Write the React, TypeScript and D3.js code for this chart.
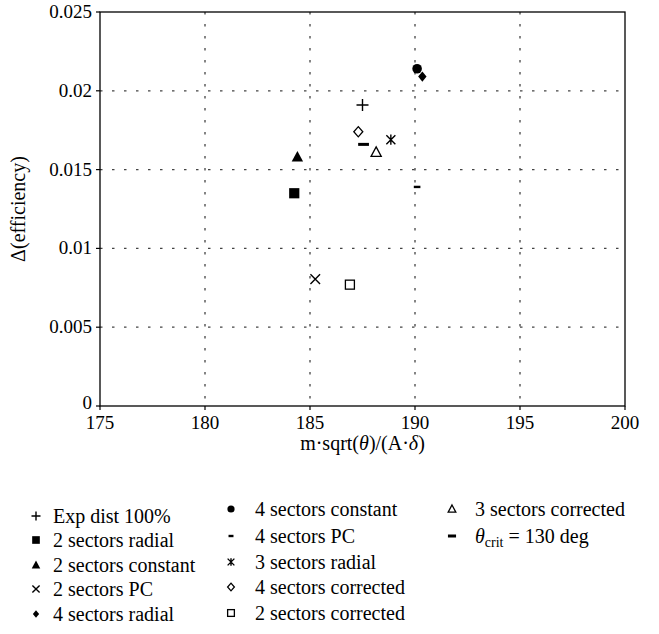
import React from "react";
import * as d3 from "d3";

const seriesNames = [
  "Exp dist 100%",
  "2 sectors radial",
  "2 sectors constant",
  "2 sectors PC",
  "4 sectors radial",
  "4 sectors constant",
  "4 sectors PC",
  "3 sectors radial",
  "4 sectors corrected",
  "2 sectors corrected",
  "3 sectors corrected",
  "theta_crit",
];
const seriesMarkers = [
  "plus", "square", "triangle", "cross", "diamond",
  "circle", "dash", "star", "diamondOpen", "squareOpen",
  "triangleOpen", "dashBold",
];
const xValues = [187.5, 184.25, 184.4, 185.25, 190.35, 190.1, 190.1, 188.85, 187.3, 186.9, 188.15, 187.55];
const yValues = [0.0191, 0.0135, 0.0158, 0.00805, 0.0209, 0.0214, 0.0139, 0.0169, 0.0174, 0.0077, 0.0161, 0.0166];

const xTicks = [175, 180, 185, 190, 195, 200];
const yTicks = [0, 0.005, 0.01, 0.015, 0.02, 0.025];
const yTickLabels = ["0", "0.005", "0.01", "0.015", "0.02", "0.025"];

const W = 659, H = 634;
const left = 100, right = 625, top = 12, bottom = 406;
const FONT = "'Times New Roman', 'Liberation Serif', Tinos, 'DejaVu Serif', 'Noto Serif', serif";

function Marker({ type, x, y, s }: { type: string; x: number; y: number; s: number }) {
  const h = s / 2;
  switch (type) {
    case "plus":
      return <path d={`M${x - h},${y}H${x + h}M${x},${y - h}V${y + h}`} stroke="#000" strokeWidth={1.4} fill="none" />;
    case "cross":
      return <path d={`M${x - h * 0.8},${y - h * 0.8}L${x + h * 0.8},${y + h * 0.8}M${x - h * 0.8},${y + h * 0.8}L${x + h * 0.8},${y - h * 0.8}`} stroke="#000" strokeWidth={1.4} fill="none" />;
    case "star":
      return <path d={`M${x - h * 0.75},${y - h * 0.75}L${x + h * 0.75},${y + h * 0.75}M${x - h * 0.75},${y + h * 0.75}L${x + h * 0.75},${y - h * 0.75}M${x},${y - h * 0.85}V${y + h * 0.85}`} stroke="#000" strokeWidth={1.4} fill="none" />;
    case "square":
      return <rect x={x - h * 0.85} y={y - h * 0.85} width={h * 1.7} height={h * 1.7} fill="#000" />;
    case "squareOpen":
      return <rect x={x - h * 0.75} y={y - h * 0.75} width={h * 1.5} height={h * 1.5} fill="#fff" stroke="#000" strokeWidth={1.3} />;
    case "triangle":
      return <path d={`M${x},${y - h}L${x + h * 0.95},${y + h * 0.75}L${x - h * 0.95},${y + h * 0.75}Z`} fill="#000" />;
    case "triangleOpen":
      return <path d={`M${x},${y - h * 0.9}L${x + h * 0.85},${y + h * 0.7}L${x - h * 0.85},${y + h * 0.7}Z`} fill="#fff" stroke="#000" strokeWidth={1.3} />;
    case "diamond":
      return <path d={`M${x},${y - h * 0.85}L${x + h * 0.7},${y}L${x},${y + h * 0.85}L${x - h * 0.7},${y}Z`} fill="#000" />;
    case "diamondOpen":
      return <path d={`M${x},${y - h * 0.85}L${x + h * 0.75},${y}L${x},${y + h * 0.85}L${x - h * 0.75},${y}Z`} fill="#fff" stroke="#000" strokeWidth={1.3} />;
    case "circle":
      return <circle cx={x} cy={y} r={h * 0.8} fill="#000" />;
    case "dash":
      return <rect x={x - h * 0.55} y={y - 1.2} width={h * 1.1} height={2.4} fill="#000" />;
    case "dashBold":
      return <rect x={x - h * 0.9} y={y - 1.5} width={h * 1.8} height={3} fill="#000" />;
    default:
      return null;
  }
}

const legendCols = [
  { mx: 36, tx: 53, rows: [0, 1, 2, 3, 4], ys: [517, 541, 566, 590, 615] },
  { mx: 231, tx: 255, rows: [5, 6, 7, 8, 9], ys: [510, 537, 563, 588, 614] },
  { mx: 452, tx: 475, rows: [10, 11], ys: [510, 537] },
];

const FS = 20;
const TFS = 19;

export default function App() {
  const x = d3.scaleLinear().domain([175, 200]).range([left, right]);
  const y = d3.scaleLinear().domain([0, 0.025]).range([bottom, top]);
  const grid = "#444";
  return (
    <svg width={W} height={H} style={{ display: "block", position: "absolute", left: 0, top: 0, fontFamily: FONT }}>
      <rect width={W} height={H} fill="#fff" />
      {xTicks.slice(1, -1).map((t) => (
        <line key={"gx" + t} x1={x(t)} x2={x(t)} y1={top} y2={bottom} stroke={grid} strokeWidth={1.3} strokeDasharray="2.5,9.5" />
      ))}
      {yTicks.slice(1, -1).map((t) => (
        <line key={"gy" + t} x1={left} x2={right} y1={y(t)} y2={y(t)} stroke={grid} strokeWidth={1.3} strokeDasharray="2.5,9.5" />
      ))}
      <rect x={left} y={top} width={right - left} height={bottom - top} fill="none" stroke="#000" strokeWidth={1.3} />
      {xTicks.map((t) => (
        <g key={"xt" + t}>
          <line x1={x(t)} x2={x(t)} y1={bottom} y2={bottom + 4} stroke="#000" strokeWidth={1.2} />
          <text x={x(t)} y={bottom + 23} textAnchor="middle" fontSize={TFS} fill="#000">{t}</text>
        </g>
      ))}
      {yTicks.map((t, i) => (
        <g key={"yt" + t}>
          <line x1={left - 4} x2={left} y1={y(t)} y2={y(t)} stroke="#000" strokeWidth={1.2} />
          <text x={left - 8} y={y(t) + (t === 0 ? 3 : 6)} textAnchor="end" fontSize={TFS} fill="#000">{yTickLabels[i]}</text>
        </g>
      ))}
      <text x={(left + right) / 2} y={450} textAnchor="middle" fontSize={FS} fill="#000">
        m·sqrt(<tspan fontStyle="italic">θ</tspan>)/(A·<tspan fontStyle="italic">δ</tspan>)
      </text>
      <text transform={`translate(25,${(top + bottom) / 2}) rotate(-90)`} textAnchor="middle" fontSize={FS} fill="#000">
        Δ(efficiency)
      </text>
      {seriesNames.map((n, i) => (
        <Marker key={"m" + i} type={seriesMarkers[i]} x={x(xValues[i])} y={y(yValues[i])} s={12} />
      ))}
      {legendCols.map((c, ci) =>
        c.rows.map((r, k) => (
          <g key={"lg" + ci + "-" + k}>
            <Marker type={seriesMarkers[r]} x={c.mx} y={c.ys[k] - 1} s={9} />
            <text x={c.tx} y={c.ys[k] + 6} fontSize={FS} fill="#000">
              {seriesNames[r] === "theta_crit" ? (
                <>
                  <tspan fontStyle="italic">θ</tspan>
                  <tspan fontSize={14} dy={4}>crit</tspan>
                  <tspan dy={-4}> = 130 deg</tspan>
                </>
              ) : (
                seriesNames[r]
              )}
            </text>
          </g>
        ))
      )}
    </svg>
  );
}
